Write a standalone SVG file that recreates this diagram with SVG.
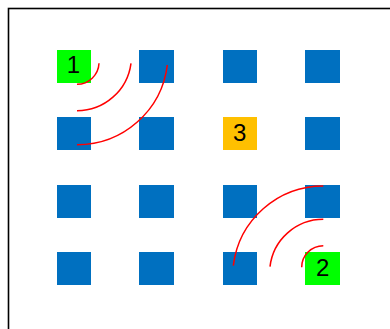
<svg xmlns="http://www.w3.org/2000/svg" width="390" height="329" viewBox="0 0 390 329">
<style>
.sq{fill:#0070C0}
.g{fill:#00FF00}
.o{fill:#FFC000}
.t{font-family:"Liberation Sans",Arial,sans-serif;font-size:24px;fill:#000;text-anchor:middle}
.arc{fill:none;stroke:#FF0000;stroke-width:1.5}
</style>
<rect x="0" y="0" width="390" height="329" fill="#FFFFFF"/>
<rect x="8.5" y="8.5" width="400" height="400" fill="none" stroke="#000" stroke-width="1.6"/>
<g id="n1"><rect class="g" x="57" y="50" width="34" height="33"/><text class="t" x="73.5" y="73.3">1</text></g>
<g id="n12"><rect class="sq" x="139" y="50" width="35" height="33"/></g>
<g id="n13"><rect class="sq" x="223" y="50" width="34" height="33"/></g>
<g id="n14"><rect class="sq" x="305" y="50" width="35" height="33"/></g>
<g id="n21"><rect class="sq" x="57" y="117" width="34" height="33"/></g>
<g id="n22"><rect class="sq" x="139" y="117" width="35" height="33"/></g>
<g id="n3"><rect class="o" x="223" y="117" width="34" height="33"/><text class="t" x="239.8" y="140.5">3</text></g>
<g id="n24"><rect class="sq" x="305" y="117" width="35" height="33"/></g>
<g id="n31"><rect class="sq" x="57" y="185" width="34" height="33"/></g>
<g id="n32"><rect class="sq" x="139" y="185" width="35" height="33"/></g>
<g id="n33"><rect class="sq" x="223" y="185" width="34" height="33"/></g>
<g id="n34"><rect class="sq" x="305" y="185" width="35" height="33"/></g>
<g id="n41"><rect class="sq" x="57" y="252" width="34" height="33"/></g>
<g id="n42"><rect class="sq" x="139" y="252" width="35" height="33"/></g>
<g id="n43"><rect class="sq" x="223" y="252" width="34" height="33"/></g>
<g id="n2"><rect class="g" x="305" y="252" width="35" height="33"/><text class="t" x="322.7" y="276.3">2</text></g>
<g id="connectors">
<path class="arc" d="M77,84.3 A22,22 0 0 0 99,63.3"/>
<path class="arc" d="M77,110.7 A54.5,54.5 0 0 0 131,63.3"/>
<path class="arc" d="M77,144.7 A90.7,90.7 0 0 0 167.3,65"/>
<path class="arc" d="M301.7,267.3 A21.6,21.6 0 0 1 323.3,245.7"/>
<path class="arc" d="M270,266.7 A53.7,53.7 0 0 1 323.3,219.3"/>
<path class="arc" d="M233.3,265.7 A90.7,90.7 0 0 1 323.3,186"/>
</g>
</svg>
